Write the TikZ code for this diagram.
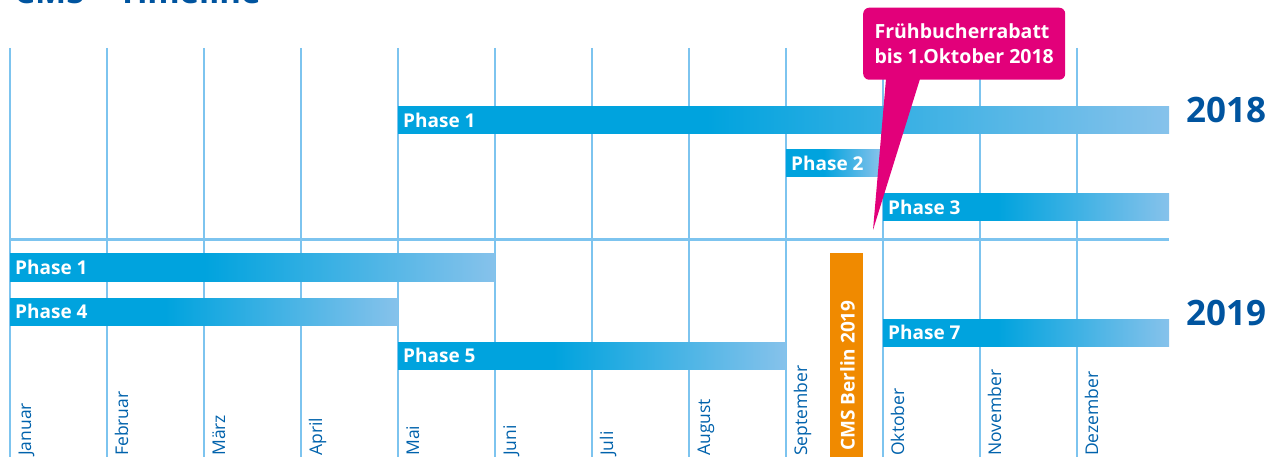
\documentclass[tikz,border=0pt]{standalone}
\usepackage{fontspec}
\setmainfont{Open Sans}
\definecolor{barcyan}{RGB}{0,163,222}
\definecolor{barlight}{RGB}{134,194,235}
\definecolor{gridblue}{RGB}{125,196,239}
\definecolor{yearblue}{RGB}{0,84,159}
\definecolor{monthblue}{RGB}{0,98,172}
\definecolor{cmsorange}{RGB}{240,138,0}
\definecolor{fbrpink}{RGB}{226,0,122}
\pgfdeclarehorizontalshading{barfade}{100bp}{color(0bp)=(barcyan); color(45bp)=(barcyan); color(75bp)=(barlight); color(100bp)=(barlight)}
\begin{document}
\begin{tikzpicture}
[x=1pt,y=-1pt,
 grid/.style={gridblue,line width=2.2pt},
 bar/.style={shading=barfade},
 lbl/.style={anchor=west,text=white,inner xsep=5pt,inner ysep=0pt,font=\fontsize{19}{21}\selectfont\bfseries},
 month/.style={rotate=90,anchor=base west,text=monthblue,inner sep=0pt,font=\fontsize{17.5}{19}\selectfont},
 year/.style={anchor=base west,text=yearblue,inner sep=0pt,font=\fontsize{35}{40}\selectfont\bfseries}]
\useasboundingbox (0,0) rectangle (1272,457);
\clip (0,0) rectangle (1272,457);

\node [anchor=base west,text=yearblue,inner sep=0pt,font=\fontsize{33}{36}\selectfont\bfseries] (title) at (14,4) {CMS – Timeline};

\foreach \i in {0,...,11}
  \draw [grid] ({10+97*\i},48) -- ({10+97*\i},457);
\draw [grid,line width=2.5pt] (10,239.5) -- (1169,239.5);

\shade [bar] (398,107) rectangle (1169,134);
\node [lbl] (a1) at (398,120.5) {Phase 1};
\shade [bar] (786,150) rectangle (880,177);
\node [lbl] (a2) at (786,163.5) {Phase 2};
\shade [bar] (883,194) rectangle (1169,221);
\node [lbl] (a3) at (883,207.5) {Phase 3};

\shade [bar] (10,254) rectangle (495,281);
\node [lbl] (b1) at (10,267.5) {Phase 1};
\shade [bar] (10,298) rectangle (398,325);
\node [lbl] (b4) at (10,311.5) {Phase 4};
\shade [bar] (398,342) rectangle (786,369);
\node [lbl] (b5) at (398,355.5) {Phase 5};
\shade [bar] (883,319) rectangle (1169,346);
\node [lbl] (b7) at (883,332.5) {Phase 7};

\fill [cmsorange] (830,253) rectangle (863,457);
\node [rotate=90,anchor=base west,text=white,inner sep=0pt,font=\fontsize{19}{21}\selectfont\bfseries] (cms) at (854.5,451) {CMS Berlin 2019};

\foreach \m [count=\i from 0] in {Januar,Februar,März,April,Mai,Juni,Juli,August,September,Oktober,November,Dezember}
  \node [month] (m\i) at ({31+97*\i},456) {\m};

\node [year] (y18) at (1186,123) {2018};
\node [year] (y19) at (1186,325) {2019};

\node [fill=fbrpink,rounded corners=6pt,text=white,align=left,anchor=north west,minimum width=202pt,minimum height=72pt,inner xsep=8pt,font=\fontsize{19.5}{25}\selectfont\bfseries] (fbr) at (863,7.5) {Frühbucherrabatt\\bis 1.Oktober 2018};
\coordinate (tip) at (873,230);
\fill [fbrpink] ([xshift=23pt,yshift=1pt]fbr.south west) -- (tip) -- ([xshift=57pt,yshift=1pt]fbr.south west) -- cycle;
\end{tikzpicture}
\end{document}
